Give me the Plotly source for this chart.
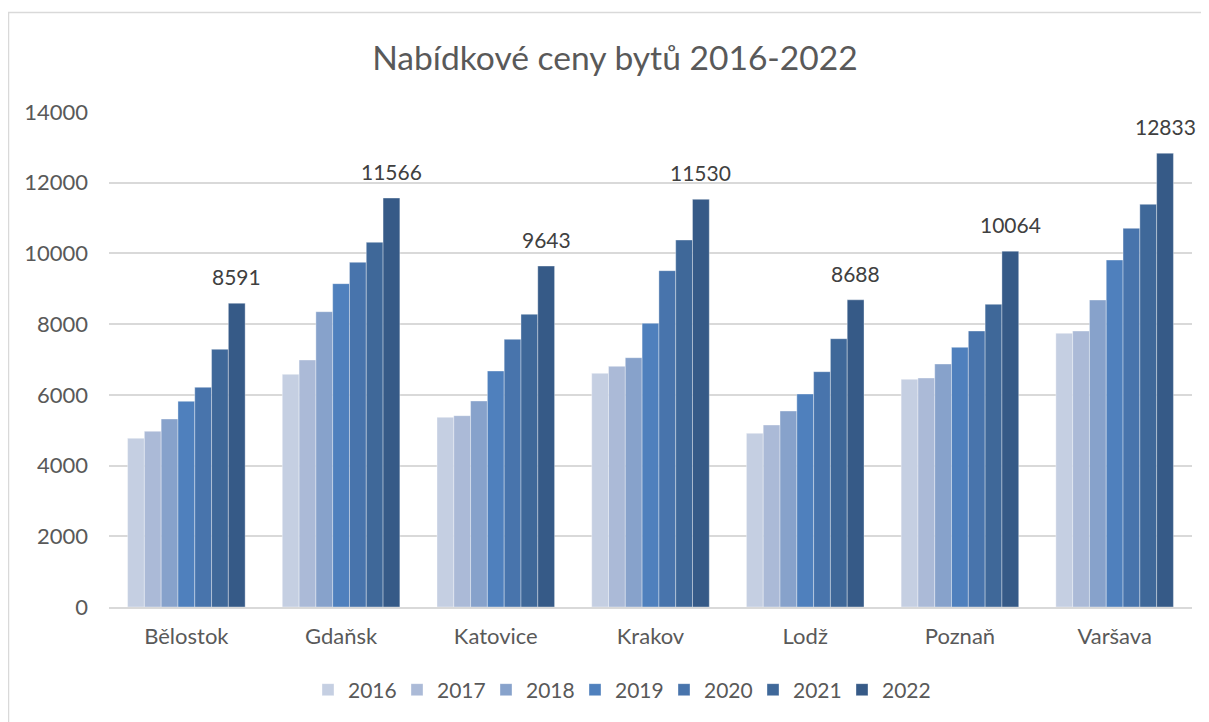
import plotly.graph_objects as go

cities = ["Bělostok", "Gdaňsk", "Katovice", "Krakov", "Lodž", "Poznaň", "Varšava"]
years = ["2016", "2017", "2018", "2019", "2020", "2021", "2022"]

v2016 = [4771, 6580, 5364, 6608, 4912, 6439, 7740]
v2017 = [4969, 6985, 5411, 6806, 5147, 6476, 7805]
v2018 = [5317, 8352, 5826, 7051, 5543, 6872, 8682]
v2019 = [5817, 9145, 6674, 8023, 6024, 7343, 9813]
v2020 = [6213, 9748, 7570, 9512, 6655, 7805, 10709]
v2021 = [7288, 10314, 8278, 10379, 7588, 8560, 11388]
v2022 = [8591, 11566, 9643, 11530, 8688, 10064, 12833]

series = [v2016, v2017, v2018, v2019, v2020, v2021, v2022]
colors = ["#C5CFE2", "#ABBAD7", "#87A2CB", "#4F80BD", "#4874AC", "#3F6899", "#365A87"]

# page has an 8px body margin, so the figure is drawn 8px smaller
W, H = 1201, 714
ML, MR, MT, MB = 101, 17, 104, 115
FONT = "Lato"
BARGAP = 0.24

fig = go.Figure()
for i, (yr, vals) in enumerate(zip(years, series)):
    fig.add_trace(go.Bar(
        name=yr, x=list(range(len(cities))), y=vals,
        marker=dict(color=colors[i], line=dict(width=0.6, color="rgba(255,255,255,0.6)")),
        hoverinfo="y+name",
    ))

# data labels for the last series, centred above its bars
n = len(years)
last_off = (1 - BARGAP) * ((n - 0.5) / n - 0.5)
for i, v in enumerate(v2022):
    fig.add_annotation(x=i + last_off, y=v, text=str(v), showarrow=False,
                       xanchor="center", yanchor="bottom", yshift=12,
                       font=dict(size=21, color="#404040", family=FONT))

pw = W - ML - MR
ph = H - MT - MB
fig.add_shape(type="rect", xref="paper", yref="paper",
              x0=(0.5 - ML) / pw, x1=(W + 10 - ML) / pw,
              y0=-(H + 10 - MT - ph) / ph, y1=1 + (MT - 4.5) / ph,
              line=dict(color="#D9D9D9", width=1.5), fillcolor="rgba(0,0,0,0)", layer="below")

fig.update_layout(
    width=W, height=H,
    margin=dict(l=ML, r=MR, t=MT, b=MB, autoexpand=False),
    paper_bgcolor="white", plot_bgcolor="white",
    font=dict(family=FONT, color="#595959", size=22),
    title=dict(text="Nabídkové ceny bytů 2016-2022", x=(615 - 8) / W, xanchor="center",
               xref="container", yref="container", y=1 - 50 / H, yanchor="middle",
               font=dict(size=33.6, color="#595959", family=FONT)),
    barmode="group", bargap=BARGAP, bargroupgap=0,
    showlegend=True,
    legend=dict(orientation="h", x=(300 - ML) / pw, xanchor="left", y=-(83) / ph,
                yanchor="middle", font=dict(size=21, color="#595959"),
                itemwidth=30, traceorder="normal", itemclick=False, tracegroupgap=0,
                entrywidth=44, entrywidthmode="pixels"),
    xaxis=dict(showgrid=False, showline=True, linecolor="#D9D9D9", linewidth=1.5,
               ticks="", tickmode="array", tickvals=list(range(len(cities))), ticktext=cities,
               range=[-0.5, len(cities) - 0.5],
               tickfont=dict(size=22, color="#595959"), ticklabelstandoff=9),
    yaxis=dict(range=[0, 14000], dtick=2000, showgrid=True, gridcolor="#D9D9D9", gridwidth=1.5,
               zeroline=False, showline=False, ticks="", tickformat="d",
               tickfont=dict(size=22, color="#595959"), ticklabelstandoff=20),
)

fig.write_html("out.html")
